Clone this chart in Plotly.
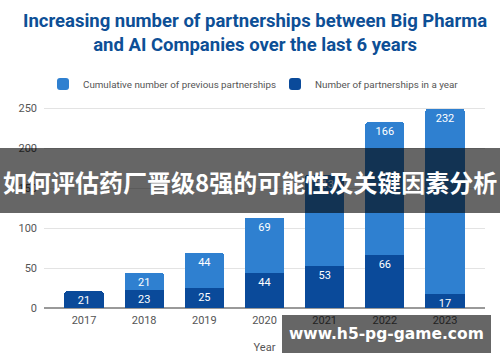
import plotly.graph_objects as go

years = ["2017", "2018", "2019", "2020", "2021", "2022", "2023"]
in_year = [21, 23, 25, 44, 53, 66, 17]
previous = [0, 21, 44, 69, 113, 166, 232]
y_ticks = [0, 50, 100, 150, 200, 250]

title_text = "Increasing number of partnerships between Big Pharma<br>and AI Companies over the last 6 years"
banner_text = "如何评估药厂晋级8强的可能性及关键因素分析"
watermark_text = "www.h5-pg-game.com"

light = "#2f80d0"
dark = "#0a4a9a"

L, R, T, B = 44, 15, 100, 54
PW, PH = 500 - L - R, 362 - T - B


def px_x(x):
    return (x - L) / PW


def px_y(y):
    return (362 - B - y) / PH


fig = go.Figure()
fig.add_trace(go.Bar(
    x=years, y=in_year, name="Number of partnerships in a year",
    marker=dict(color=dark, line=dict(width=0)),
    text=[str(v) for v in in_year], textposition="inside", insidetextanchor="end",
    textangle=0, constraintext="none", legendwidth=145,
    textfont=dict(color="white", size=11, family="Roboto"), width=0.65,
))
fig.add_trace(go.Bar(
    x=years, y=previous, name="Cumulative number of previous partnerships",
    marker=dict(color=light, line=dict(width=0)),
    text=[str(v) if v else "" for v in previous], textposition="inside", insidetextanchor="end",
    textangle=0, constraintext="none", legendwidth=187,
    textfont=dict(color="white", size=11, family="Roboto"), width=0.65,
))

fig.update_layout(
    barmode="stack",
    barcornerradius=2,
    width=500, height=362,
    margin=dict(l=L, r=R, t=T, b=B, autoexpand=False),
    paper_bgcolor="white", plot_bgcolor="white",
    font=dict(family="Roboto", color="#555"),
    legend=dict(orientation="h", x=px_x(254), xanchor="center", y=px_y(84), yanchor="middle",
                traceorder="reversed", font=dict(size=9.8, color="#555"),
                itemwidth=30),
    showlegend=True,
)
fig.update_xaxes(range=[-0.665, 6.665], showgrid=False, ticks="", tickfont=dict(size=11, color="#555"),
                 ticklabelstandoff=4, automargin=False,
                 title=dict(text="Year", font=dict(size=11, color="#555"), standoff=17))
fig.update_yaxes(range=[0, 260], tickvals=y_ticks, showgrid=True, gridcolor="#e3e3e3",
                 zeroline=True, zerolinecolor="#999", zerolinewidth=1.5, automargin=False,
                 tickfont=dict(size=11, color="#555"), ticks="", ticklabelstandoff=6)

# title
fig.add_annotation(xref="paper", yref="paper", x=px_x(255), y=px_y(33.5), xanchor="center", yanchor="middle",
                   text=title_text, showarrow=False,
                   font=dict(family="Roboto", size=18.5, color="#0d4f96", weight="bold"))

# overlay banner
fig.add_shape(type="rect", xref="paper", yref="paper", x0=px_x(-5), x1=px_x(505),
              y0=px_y(148), y1=px_y(213), layer="above",
              fillcolor="rgba(0,0,0,0.6)", line=dict(width=0))
fig.add_annotation(xref="paper", yref="paper", x=px_x(250), y=px_y(181), xanchor="center", yanchor="middle",
                   text=banner_text, showarrow=False,
                   font=dict(family="Noto Sans CJK SC", size=24, color="white", weight="bold"))
# watermark
fig.add_shape(type="rect", xref="paper", yref="paper", x0=px_x(282), x1=px_x(491),
              y0=px_y(315), y1=px_y(353), layer="above",
              fillcolor="rgba(0,0,0,0.6)", line=dict(width=0))
fig.add_annotation(xref="paper", yref="paper", x=px_x(386), y=px_y(334), xanchor="center", yanchor="middle",
                   text=watermark_text, showarrow=False,
                   font=dict(family="DejaVu Sans", size=15.5, color="white", weight="bold"))

fig.write_html("out.html", config={"displayModeBar": False},
               post_script="document.body.style.margin='0';")
